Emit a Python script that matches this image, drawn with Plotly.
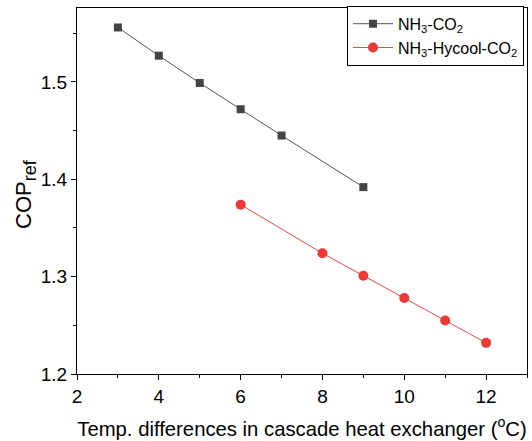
import plotly.graph_objects as go

x_nh3 = [3, 4, 5, 6, 7, 9]
y_nh3 = [1.556, 1.527, 1.499, 1.472, 1.445, 1.392]
x_hy = [6, 8, 9, 10, 11, 12]
y_hy = [1.374, 1.324, 1.301, 1.278, 1.255, 1.232]
name_nh3 = "NH<sub>3</sub>-CO<sub>2</sub>"
name_hy = "NH<sub>3</sub>-Hycool-CO<sub>2</sub>"
x_ticks = [2, 4, 6, 8, 10, 12]
y_ticks = [1.2, 1.3, 1.4, 1.5]
y_title = 'COP<sub><span style="font-size:18px">ref</span></sub>'

fig = go.Figure()
fig.add_trace(go.Scatter(x=x_nh3, y=y_nh3, name=name_nh3, mode="lines+markers",
                         line=dict(color="#555555", width=1),
                         marker=dict(symbol="square", size=8, color="#444444")))
fig.add_trace(go.Scatter(x=x_hy, y=y_hy, name=name_hy, mode="lines+markers",
                         line=dict(color="#f04848", width=1),
                         marker=dict(symbol="circle", size=10, color="#ee3838")))

axis_common = dict(showline=True, linecolor="black", linewidth=1.3, mirror=True,
                   ticks="outside", ticklen=5, tickcolor="black", showgrid=False,
                   zeroline=False, automargin=False,
                   tickfont=dict(size=19, color="black"))
fig.update_xaxes(range=[2, 13], tickvals=x_ticks,
                 minor=dict(ticks="outside", ticklen=3, dtick=1, tick0=2, tickcolor="black"),
                 title=dict(text="Temp. differences in cascade heat exchanger (<sup>o</sup>C)",
                            font=dict(size=20.3, color="black")),
                 **axis_common)
fig.update_yaxes(range=[1.2, 1.576], tickvals=y_ticks, tickformat=".1f",
                 minor=dict(ticks="outside", ticklen=3, dtick=0.05, tick0=1.2, tickcolor="black"),
                 **axis_common)
fig.add_annotation(text=y_title, xref="paper", yref="paper", x=0, y=0.5,
                   xanchor="center", yanchor="middle", xshift=-52, yshift=-3,
                   textangle=-90, showarrow=False, font=dict(size=22, color="black"))
fig.update_layout(width=532, height=441, margin=dict(l=77, r=5, t=8, b=67, autoexpand=False),
                  plot_bgcolor="white", paper_bgcolor="white",
                  font=dict(family="Liberation Sans, Arial, sans-serif", color="black"),
                  legend=dict(x=0.6, y=1.006, xanchor="left", yanchor="top",
                              bordercolor="black", borderwidth=1, bgcolor="white",
                              font=dict(size=16, color="black"), tracegroupgap=0,
                              itemwidth=40),
                  showlegend=True)
fig.write_html("out.html", config={"displayModeBar": False})

with open("out.html", encoding="utf-8") as f:
    html = f.read()
html = html.replace("<body>", '<body style="margin:0;padding:0;overflow:hidden">', 1)
with open("out.html", "w", encoding="utf-8") as f:
    f.write(html)
